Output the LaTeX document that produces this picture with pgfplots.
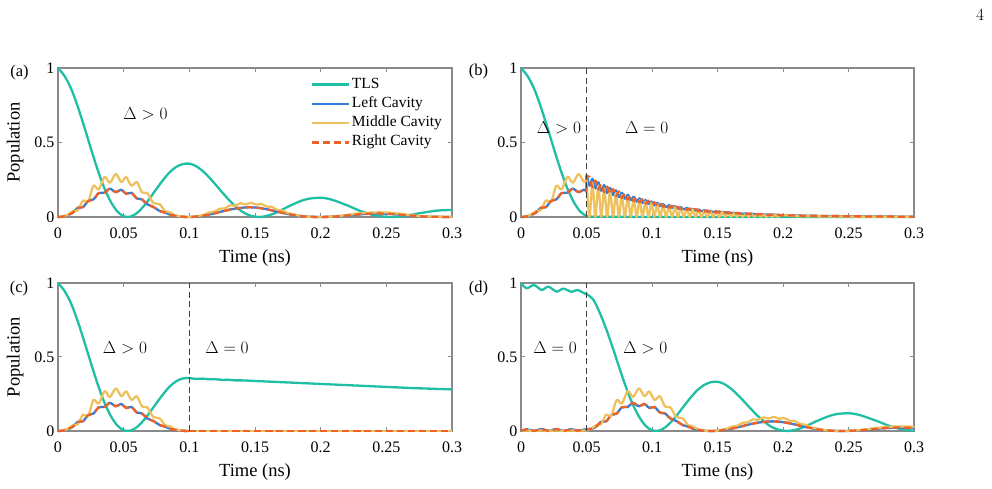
\documentclass[border=0pt]{standalone}
\usepackage{fontspec}
\setmainfont{Liberation Serif}
\usepackage{pgfplots}
\pgfplotsset{compat=1.18}
\usepackage{pgfplotstable}

\definecolor{tls}{HTML}{1FBFA5}
\definecolor{lc}{HTML}{2E7FDB}
\definecolor{mc}{HTML}{EDC25E}
\definecolor{rc}{HTML}{EE6127}
\definecolor{axgray}{HTML}{8A8A8A}

% ---------------- data ----------------
\pgfplotstableread{
t y
0 1.000
0.005 0.946
0.010 0.861
0.015 0.742
0.020 0.605
0.025 0.461
0.030 0.322
0.035 0.200
0.040 0.105
0.045 0.039
0.050 0.005
0.055 0.002
0.060 0.026
0.065 0.070
0.070 0.127
0.075 0.189
0.080 0.248
0.085 0.300
0.090 0.336
0.095 0.355
0.100 0.358
0.105 0.342
0.110 0.310
0.115 0.267
0.120 0.217
0.125 0.166
0.130 0.116
0.135 0.073
0.140 0.037
0.145 0.014
0.150 0.002
0.155 0.001
0.160 0.010
0.165 0.025
0.170 0.046
0.175 0.069
0.180 0.089
0.185 0.108
0.190 0.121
0.195 0.127
0.200 0.129
0.205 0.124
0.210 0.112
0.215 0.096
0.220 0.079
0.225 0.060
0.230 0.041
0.235 0.026
0.240 0.013
0.245 0.006
0.250 0.001
0.255 0.000
0.260 0.003
0.265 0.009
0.270 0.016
0.275 0.025
0.280 0.032
0.285 0.039
0.290 0.044
0.295 0.046
0.300 0.047
}\tlsA

\pgfplotstableread{
t y
0 0
0.004 0.004
0.008 0.018
0.0115 0.040
0.015 0.045
0.019 0.110
0.023 0.102
0.027 0.210
0.031 0.185
0.0355 0.270
0.0395 0.230
0.044 0.288
0.048 0.235
0.050 0.250
0.052 0.268
0.056 0.210
0.060 0.235
0.064 0.165
0.068 0.160
0.0725 0.095
0.0775 0.085
0.0815 0.040
0.0855 0.030
0.089 0.012
0.094 0.003
0.099 0.000
0.103 0.002
0.107 0.008
0.111 0.015
0.115 0.030
0.119 0.035
0.123 0.055
0.127 0.058
0.131 0.078
0.135 0.076
0.139 0.092
0.143 0.085
0.147 0.095
0.151 0.083
0.155 0.087
0.159 0.070
0.163 0.068
0.167 0.048
0.171 0.043
0.175 0.026
0.180 0.016
0.185 0.007
0.190 0.002
0.196 0.000
0.205 0.001
0.215 0.008
0.225 0.020
0.235 0.028
0.245 0.031
0.255 0.027
0.265 0.017
0.275 0.007
0.285 0.002
0.295 0.001
0.300 0.002
}\mA

\pgfplotstableread{
t y
0 0
0.004 0.003
0.008 0.015
0.0115 0.030
0.015 0.062
0.019 0.066
0.023 0.108
0.027 0.118
0.031 0.160
0.0355 0.163
0.0395 0.190
0.044 0.167
0.048 0.183
0.050 0.170
0.052 0.155
0.056 0.162
0.060 0.125
0.064 0.118
0.068 0.085
0.0725 0.068
0.0775 0.040
0.0815 0.030
0.0855 0.015
0.089 0.008
0.094 0.002
0.099 0.000
0.103 0.001
0.110 0.008
0.117 0.020
0.124 0.035
0.131 0.050
0.138 0.060
0.145 0.065
0.152 0.062
0.159 0.052
0.166 0.038
0.173 0.024
0.180 0.012
0.187 0.004
0.194 0.001
0.200 0.000
0.210 0.003
0.220 0.010
0.230 0.018
0.240 0.023
0.250 0.022
0.260 0.016
0.270 0.009
0.280 0.003
0.290 0.001
0.300 0.000
}\lA

\pgfplotstableread{
t M L R T
0.04995 0.249 0.172 0.172 0.003
0.05000 0.250 0.280 0.265 0.000
0.05225 0.002 0.210 0.268 0.008
0.05450 0.229 0.256 0.201 0.000
0.05675 0.002 0.192 0.245 0.007
0.05900 0.209 0.234 0.184 0.000
0.06125 0.002 0.176 0.224 0.006
0.06350 0.191 0.214 0.168 0.000
0.06575 0.002 0.161 0.204 0.006
0.06800 0.175 0.195 0.154 0.000
0.07025 0.002 0.147 0.187 0.005
0.07250 0.160 0.179 0.140 0.000
0.07475 0.002 0.134 0.171 0.005
0.07700 0.146 0.163 0.128 0.000
0.07925 0.002 0.123 0.156 0.004
0.08150 0.133 0.149 0.117 0.000
0.08375 0.002 0.112 0.143 0.004
0.08600 0.122 0.136 0.107 0.000
0.08825 0.002 0.103 0.130 0.004
0.09050 0.111 0.125 0.098 0.000
0.09275 0.002 0.094 0.119 0.003
0.09500 0.102 0.114 0.090 0.000
0.09725 0.002 0.086 0.109 0.003
0.09950 0.093 0.104 0.082 0.000
0.10175 0.002 0.078 0.099 0.003
0.10400 0.085 0.095 0.075 0.000
0.10625 0.001 0.072 0.091 0.003
0.10850 0.078 0.087 0.068 0.000
0.11075 0.001 0.065 0.083 0.002
0.11300 0.071 0.080 0.062 0.000
0.11525 0.001 0.060 0.076 0.002
0.11750 0.065 0.073 0.057 0.000
0.11975 0.001 0.055 0.069 0.002
0.12200 0.059 0.066 0.052 0.000
0.12425 0.001 0.050 0.064 0.002
0.12650 0.054 0.061 0.048 0.000
0.12875 0.001 0.046 0.058 0.002
0.13100 0.050 0.055 0.044 0.000
0.13325 0.001 0.042 0.053 0.002
0.13550 0.045 0.051 0.040 0.000
0.13775 0.001 0.038 0.048 0.001
0.14000 0.041 0.046 0.036 0.000
0.14225 0.001 0.035 0.044 0.001
0.14450 0.038 0.042 0.033 0.000
0.14675 0.001 0.032 0.040 0.001
0.14900 0.035 0.039 0.030 0.000
0.15125 0.001 0.029 0.037 0.001
0.15350 0.032 0.035 0.028 0.000
0.15575 0.001 0.027 0.034 0.001
0.15800 0.029 0.032 0.025 0.000
0.16025 0.001 0.024 0.031 0.001
0.16250 0.026 0.029 0.023 0.000
0.16475 0.001 0.022 0.028 0.001
0.16700 0.024 0.027 0.021 0.000
0.16925 0.001 0.020 0.026 0.001
0.17150 0.022 0.025 0.019 0.000
0.17375 0.001 0.018 0.024 0.001
0.17600 0.020 0.023 0.018 0.000
0.17825 0.001 0.017 0.022 0.001
0.18050 0.019 0.021 0.016 0.000
0.18275 0.001 0.015 0.020 0.001
0.18500 0.017 0.019 0.015 0.000
0.18725 0.001 0.014 0.018 0.001
0.18950 0.015 0.017 0.013 0.000
0.19175 0.001 0.013 0.017 0.000
0.19400 0.014 0.016 0.012 0.000
0.19625 0.001 0.012 0.015 0.000
0.19850 0.013 0.014 0.011 0.000
0.21000 0.006 0.010 0.010 0.000
0.22000 0.005 0.008 0.008 0.000
0.23000 0.004 0.007 0.007 0.000
0.24000 0.003 0.006 0.006 0.000
0.25000 0.003 0.005 0.005 0.000
0.26000 0.002 0.004 0.004 0.000
0.27000 0.002 0.003 0.003 0.000
0.28000 0.001 0.003 0.003 0.000
0.29000 0.001 0.002 0.002 0.000
0.30000 0.001 0.002 0.002 0.000
}\bpost

\pgfplotstableread{
t y
0.100 0.358
0.105 0.352
0.110 0.354
0.115 0.349
0.120 0.350
0.125 0.345
0.130 0.346
0.135 0.342
0.140 0.342
0.150 0.338
0.160 0.334
0.170 0.330
0.180 0.326
0.190 0.322
0.200 0.318
0.210 0.314
0.220 0.310
0.230 0.306
0.240 0.302
0.250 0.298
0.260 0.294
0.270 0.290
0.280 0.287
0.290 0.284
0.300 0.281
}\ctail

\pgfplotstableread{
t y
0 1.000
0.0043 0.964
0.0099 0.986
0.0158 0.953
0.0209 0.975
0.0272 0.942
0.0323 0.962
0.0387 0.940
0.0430 0.953
0.0488 0.928
0.050 0.925
0.055 0.890
0.060 0.801
0.065 0.690
0.070 0.563
0.075 0.429
0.080 0.299
0.085 0.186
0.090 0.098
0.095 0.036
0.100 0.005
0.105 0.002
0.110 0.024
0.115 0.065
0.120 0.118
0.125 0.176
0.130 0.231
0.135 0.279
0.140 0.312
0.145 0.330
0.150 0.333
0.155 0.318
0.160 0.288
0.165 0.248
0.170 0.202
0.175 0.154
0.180 0.108
0.185 0.068
0.190 0.034
0.195 0.013
0.200 0.002
0.205 0.001
0.210 0.009
0.215 0.023
0.220 0.043
0.225 0.064
0.230 0.083
0.235 0.100
0.240 0.113
0.245 0.118
0.250 0.120
0.255 0.115
0.260 0.104
0.265 0.089
0.270 0.073
0.275 0.056
0.280 0.038
0.285 0.024
0.290 0.012
0.295 0.006
0.300 0.001
}\tlsD

\pgfplotstableread{
t y
0 0
0.0043 0.004
0.0099 0.000
0.0158 0.004
0.0209 0.000
0.0272 0.004
0.0323 0.000
0.0387 0.004
0.0430 0.000
0.0488 0.004
0.050 0.004
0.054 0.018
0.0575 0.040
0.061 0.045
0.065 0.110
0.069 0.102
0.073 0.210
0.077 0.185
0.0815 0.270
0.0855 0.230
0.090 0.288
0.094 0.235
0.096 0.250
0.098 0.268
0.102 0.210
0.106 0.235
0.110 0.165
0.114 0.160
0.1185 0.095
0.1235 0.085
0.1275 0.040
0.1315 0.030
0.135 0.012
0.140 0.003
0.145 0.000
0.149 0.002
0.153 0.008
0.157 0.015
0.161 0.030
0.165 0.035
0.169 0.055
0.173 0.058
0.177 0.078
0.181 0.076
0.185 0.092
0.189 0.085
0.193 0.095
0.197 0.083
0.201 0.087
0.205 0.070
0.209 0.068
0.213 0.048
0.217 0.043
0.221 0.026
0.226 0.016
0.231 0.007
0.236 0.002
0.242 0.000
0.251 0.001
0.261 0.008
0.271 0.020
0.281 0.028
0.291 0.031
0.300 0.029
}\mD

\pgfplotstableread{
t y
0 0
0.0043 0.012
0.0099 0.001
0.0158 0.013
0.0209 0.001
0.0272 0.013
0.0323 0.001
0.0387 0.012
0.0430 0.002
0.0488 0.011
0.054 0.015
0.0575 0.030
0.061 0.062
0.065 0.066
0.069 0.108
0.073 0.118
0.077 0.160
0.0815 0.163
0.0855 0.190
0.090 0.167
0.094 0.183
0.096 0.170
0.098 0.155
0.102 0.162
0.106 0.125
0.110 0.118
0.114 0.085
0.1185 0.068
0.1235 0.040
0.1275 0.030
0.1315 0.015
0.135 0.008
0.140 0.002
0.145 0.000
0.149 0.001
0.156 0.008
0.163 0.020
0.170 0.035
0.177 0.050
0.184 0.060
0.191 0.065
0.198 0.062
0.205 0.052
0.212 0.038
0.219 0.024
0.226 0.012
0.233 0.004
0.240 0.001
0.246 0.000
0.256 0.003
0.266 0.010
0.276 0.018
0.286 0.023
0.296 0.022
0.300 0.020
}\lD

% ---------------- styles ----------------
\pgfplotsset{
  panel/.style={
    scale only axis, anchor=south west,
    xmin=0, xmax=0.3, ymin=0, ymax=1,
    xtick={0,0.05,0.1,0.15,0.2,0.25,0.3},
    xticklabels={0,0.05,0.1,0.15,0.2,0.25,0.3},
    ytick={0,0.5,1}, yticklabels={0,0.5,1},
    tick align=inside, major tick length=4pt,
    axis line style={draw=axgray, line width=1.1pt},
    every tick/.style={draw=axgray, line width=1pt},
    tick label style={font=\fontsize{16}{18}\selectfont},
    xticklabel style={yshift=-7pt},
    xlabel={Time (ns)},
    every axis x label/.style={at={(axis description cs:0.5,0)}, anchor=center, yshift=-41pt, font=\fontsize{18.5}{21}\selectfont},
    every axis y label/.style={at={(axis description cs:-0.109,0.5)}, rotate=90, anchor=center, font=\fontsize{18.5}{21}\selectfont},
    clip=false,
    every axis plot/.append style={line width=2.3pt, smooth, line join=round},
  },
  tlsS/.style={color=tls, solid},
  lS/.style={color=lc, solid},
  mS/.style={color=mc, solid},
  rS/.style={color=rc, dash pattern=on 7pt off 4pt},
  vline/.style={color=black!75, line width=1.3pt, sharp plot, dash pattern=on 6pt off 3.5pt},
}
\newcommand{\dl}[1]{{\fontsize{17}{20}\selectfont$#1$}}

\begin{document}
\begin{tikzpicture}
\path[use as bounding box] (0pt,0pt) rectangle (992pt,489pt);

% (a)
\begin{axis}[panel, at={(58pt,272pt)}, width=394pt, height=149pt,
  ylabel={Population},
  legend entries={TLS, Left Cavity, Middle Cavity, Right Cavity},
  legend cell align=left,
  legend image code/.code={\draw[#1] (0pt,0pt) -- (37pt,0pt);},
  legend style={at={(rel axis cs:0.642,0.955)}, anchor=north west, draw=none, fill=none,
    font=\fontsize{15.5}{17}\selectfont, row sep=0pt, inner sep=0pt,
    nodes={text height=11pt, text depth=4pt, inner ysep=2.15pt, inner xsep=1.5pt}},
  ]
\addplot[tlsS] table[x=t,y=y]{\tlsA};
\addplot[lS] table[x=t,y=y]{\lA};
\addplot[mS] table[x=t,y=y]{\mA};
\addplot[rS] table[x=t,y=y]{\lA};
\node at (axis cs:0.0666,0.69) {\dl{\Delta > 0}};
\end{axis}

% (b)
\begin{axis}[panel, at={(521pt,272pt)}, width=393pt, height=149pt]
\addplot[tlsS, restrict x to domain=0:0.0501] table[x=t,y=y]{\tlsA};
\addplot[tlsS] table[x=t,y=T]{\bpost};
\addplot[lS, restrict x to domain=0:0.0501] table[x=t,y=y]{\lA};
\addplot[lS] table[x=t,y=L]{\bpost};
\addplot[mS, restrict x to domain=0:0.0501] table[x=t,y=y]{\mA};
\addplot[mS] table[x=t,y=M]{\bpost};
\addplot[rS, restrict x to domain=0:0.0501] table[x=t,y=y]{\lA};
\addplot[rS] table[x=t,y=R]{\bpost};
\addplot[vline] coordinates {(0.05,0) (0.05,1)};
\node at (axis cs:0.029,0.60) {\dl{\Delta > 0}};
\node at (axis cs:0.096,0.60) {\dl{\Delta = 0}};
\end{axis}

% (c)
\begin{axis}[panel, at={(58pt,58pt)}, width=394pt, height=148pt, ylabel={Population}]
\addplot[tlsS, restrict x to domain=0:0.1001] table[x=t,y=y]{\tlsA};
\addplot[tlsS] table[x=t,y=y]{\ctail};
\addplot[lS, restrict x to domain=0:0.1001] table[x=t,y=y]{\lA};
\addplot[lS] coordinates {(0.099,0) (0.3,0)};
\addplot[mS, restrict x to domain=0:0.1001] table[x=t,y=y]{\mA};
\addplot[mS] coordinates {(0.099,0) (0.3,0)};
\addplot[rS, restrict x to domain=0:0.1001] table[x=t,y=y]{\lA};
\addplot[rS] coordinates {(0.099,0) (0.3,0)};
\addplot[vline] coordinates {(0.1,0) (0.1,1)};
\node at (axis cs:0.051,0.561) {\dl{\Delta > 0}};
\node at (axis cs:0.1287,0.561) {\dl{\Delta = 0}};
\end{axis}

% (d)
\begin{axis}[panel, at={(521pt,58pt)}, width=393pt, height=148pt]
\addplot[tlsS] table[x=t,y=y]{\tlsD};
\addplot[lS] table[x=t,y=y]{\lD};
\addplot[mS] table[x=t,y=y]{\mD};
\addplot[rS] table[x=t,y=y]{\lD};
\addplot[vline] coordinates {(0.05,0) (0.05,1)};
\node at (axis cs:0.026,0.564) {\dl{\Delta = 0}};
\node at (axis cs:0.0949,0.564) {\dl{\Delta > 0}};
\end{axis}

\node[font=\fontsize{16.5}{19}\selectfont] at (19.5pt,416.5pt) {(a)};
\node[font=\fontsize{16.5}{19}\selectfont] at (478.5pt,417.5pt) {(b)};
\node[font=\fontsize{16.5}{19}\selectfont] at (19pt,200pt) {(c)};
\node[font=\fontsize{16.5}{19}\selectfont] at (478.5pt,200pt) {(d)};
\node at (980pt,474pt) {\fontsize{17}{20}\selectfont$4$};
\end{tikzpicture}
\end{document}
